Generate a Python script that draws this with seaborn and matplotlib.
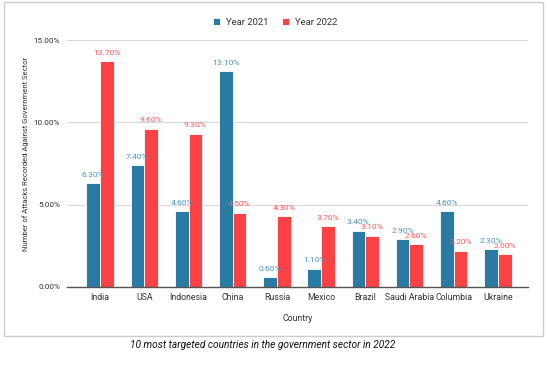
import pandas as pd
import matplotlib.pyplot as plt
import seaborn as sb
from matplotlib.patches import Rectangle
from matplotlib.ticker import FuncFormatter

countries = ["India", "USA", "Indonesia", "China", "Russia", "Mexico",
             "Brazil", "Saudi Arabia", "Columbia", "Ukraine"]
year_2021 = [6.3, 7.4, 4.6, 13.1, 0.6, 1.1, 3.4, 2.9, 4.6, 2.3]
year_2022 = [13.7, 9.6, 9.3, 4.5, 4.3, 3.7, 3.1, 2.6, 2.2, 2.0]
series_names = ["Year 2021", "Year 2022"]

bar_colors = ["#2a7ba3", "#fd4246"]
label_colors = ["#4b94c0", "#fd5a5d"]

df = pd.DataFrame({
    "Country": countries * 2,
    "value": year_2021 + year_2022,
    "series": [series_names[0]] * len(countries) + [series_names[1]] * len(countries),
})

sb.set_style("white")
plt.rcParams["font.family"] = ["Roboto", "DejaVu Sans"]

fig = plt.figure(figsize=(5.47, 3.67), dpi=100)
ax = fig.add_axes([0.1225, 0.218, 0.8425, 0.673])

sb.barplot(data=df, x="Country", y="value", hue="series", palette=bar_colors,
           saturation=1, width=0.62, edgecolor="white", linewidth=0.6,
           ax=ax, legend=True)

# value labels above bars
for i, cont in enumerate(ax.containers):
    vals = year_2021 if i == 0 else year_2022
    ax.bar_label(cont, labels=[f"{v:.2f}%" for v in vals], padding=4,
                 color=label_colors[i], fontsize=6.1)

ax.set_ylim(0, 15)
ax.set_xlim(-0.75, 9.68)
ax.set_yticks([0, 5, 10, 15])
ax.yaxis.set_major_formatter(FuncFormatter(lambda v, p: f"{v:.2f}%"))
ax.grid(axis="y", color="#d9d9d9", linewidth=0.8)
ax.set_axisbelow(True)
for s in ["top", "right", "left"]:
    ax.spines[s].set_visible(False)
ax.spines["bottom"].set_color("#555555")
ax.spines["bottom"].set_linewidth(1.0)
ax.tick_params(axis="x", length=0, labelsize=6.3, colors="#333333", pad=4)
ax.tick_params(axis="y", length=0, labelsize=5.9, colors="#333333", pad=5)
ax.set_xlabel("Country", fontsize=6.3, color="#333333", labelpad=9)
ax.set_ylabel("Number of Attacks Recorded Against Government Sector",
              fontsize=5.5, color="#333333", labelpad=12)
ax.yaxis.set_label_coords(-0.083, 0.54)

# legend on top
handles, labels = ax.get_legend_handles_labels()
ax.get_legend().remove()
fig.legend(handles, labels, loc="center", bbox_to_anchor=(0.503, 0.94), ncol=2,
           frameon=False, fontsize=6.8, handlelength=0.8, handleheight=0.8,
           columnspacing=1.4, handletextpad=0.6, labelcolor="#333333")

# outer frame
fig.patches.append(Rectangle((4 / 547, 1 - 336 / 367), 539 / 547, 334 / 367,
                             transform=fig.transFigure, fill=False,
                             edgecolor="#cccccc", linewidth=1.0))

fig.text(0.481, 1 - 345 / 367, "10 most targeted countries in the government sector in 2022",
         ha="center", va="center", fontsize=7.3, style="italic", color="#111111")

fig.savefig("out.png", dpi=100)
